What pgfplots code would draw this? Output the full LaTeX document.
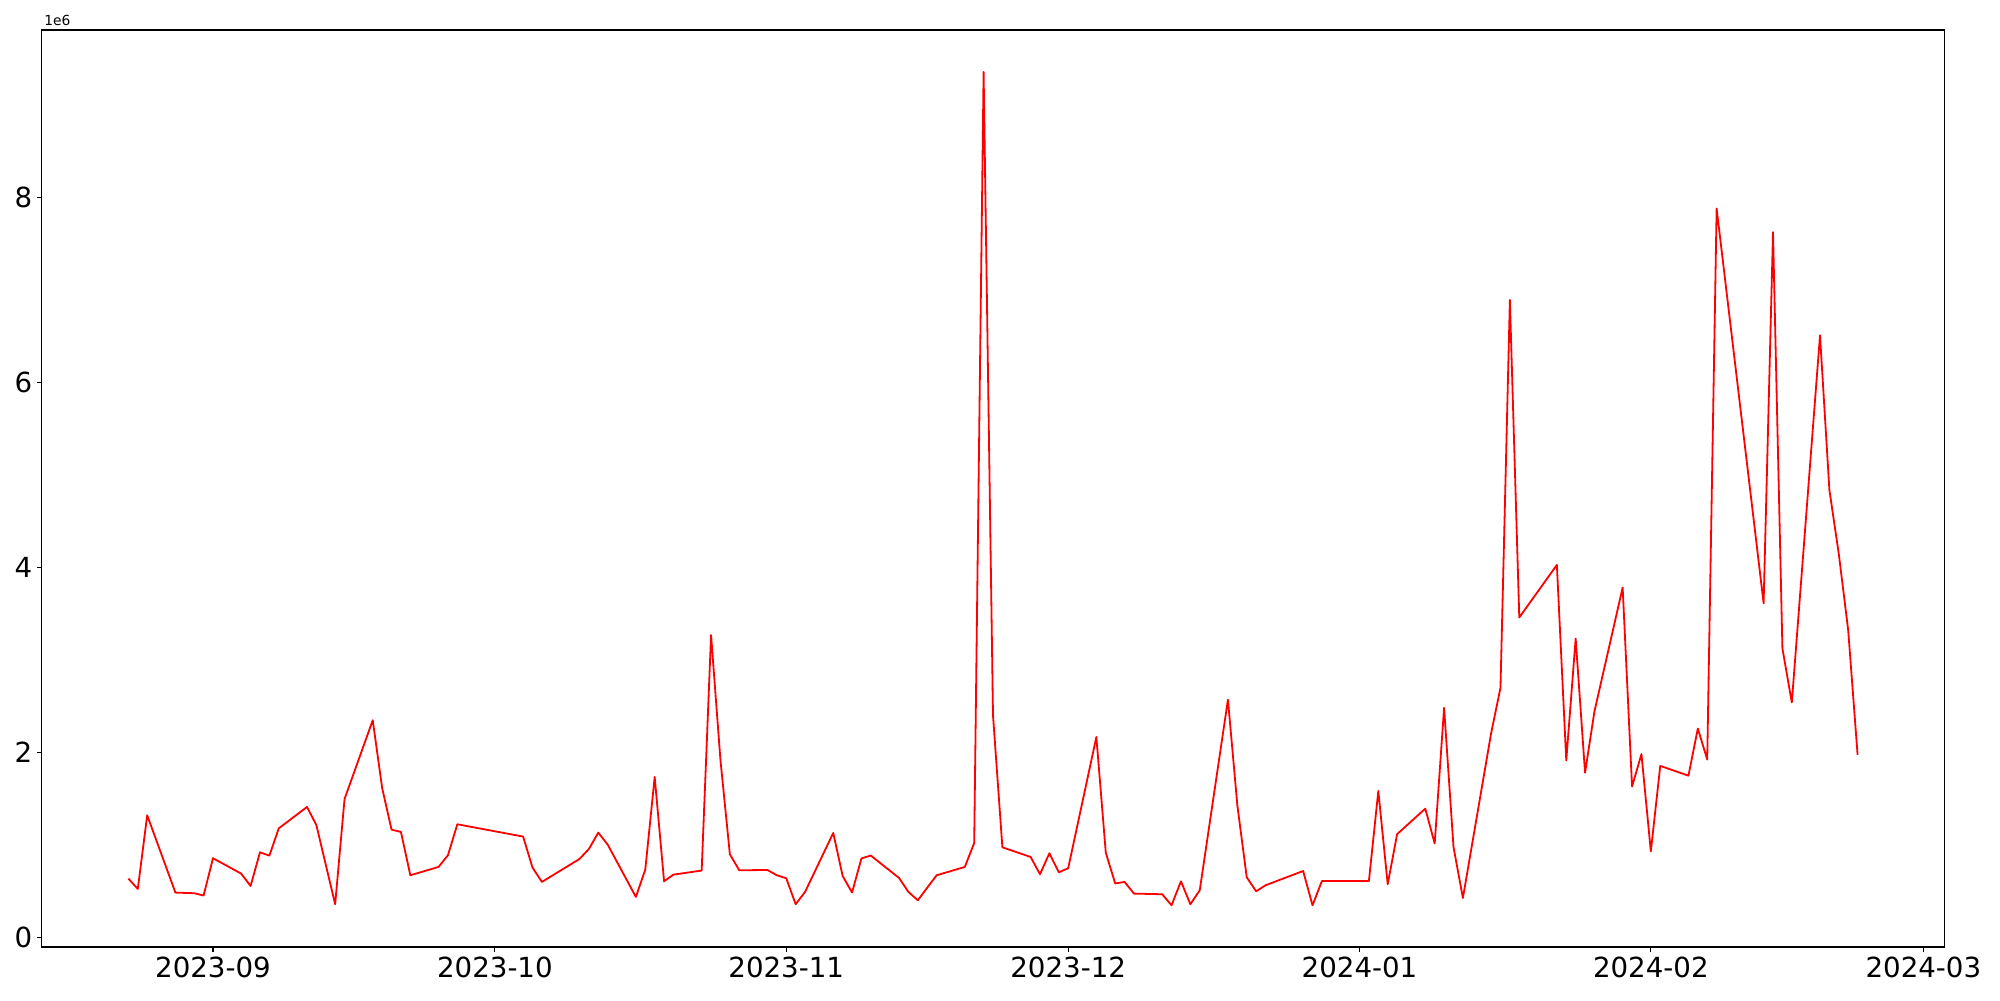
\documentclass[border=0pt]{standalone}
\usepackage{fontspec}
\setmainfont{DejaVu Sans}
\usepackage{pgfplots}
\pgfplotsset{compat=1.18}
\usepackage{pgfplotstable}

% d = days since 2023-09-01, v = value in units of 1e6
\pgfplotstableread{
d v
-9 0.639
-8 0.527
-7 1.323
-4 0.488
-2 0.481
-1 0.456
0 0.859
3 0.693
4 0.559
5 0.923
6 0.887
7 1.182
10 1.413
11 1.218
13 0.362
14 1.499
17 2.350
18 1.618
19 1.168
20 1.143
21 0.675
24 0.765
25 0.891
26 1.226
33 1.093
34 0.758
35 0.603
39 0.851
40 0.959
41 1.136
42 1.006
45 0.441
46 0.736
47 1.737
48 0.610
49 0.682
52 0.726
53 3.270
54 1.917
55 0.902
56 0.729
59 0.732
60 0.675
61 0.643
62 0.362
63 0.495
66 1.132
67 0.668
68 0.488
69 0.857
70 0.888
73 0.646
74 0.495
75 0.405
77 0.675
80 0.765
81 1.024
82 9.355
83 2.403
84 0.977
87 0.873
88 0.686
89 0.913
90 0.707
91 0.751
94 2.169
95 0.920
96 0.587
97 0.603
98 0.477
101 0.470
102 0.351
103 0.610
104 0.362
105 0.513
108 2.572
109 1.431
110 0.653
111 0.502
112 0.567
116 0.721
117 0.351
118 0.613
123 0.613
124 1.586
125 0.578
126 1.119
129 1.395
130 1.018
131 2.484
132 0.981
133 0.429
136 2.207
137 2.701
138 6.890
139 3.460
143 4.028
144 1.916
145 3.232
146 1.783
147 2.446
150 3.784
151 1.634
152 1.984
153 0.933
154 1.857
157 1.751
158 2.260
159 1.925
160 7.878
165 3.614
166 7.623
167 3.126
168 2.542
171 6.508
172 4.836
173 4.146
174 3.322
175 1.975
}\data

\begin{document}
\begin{tikzpicture}
\begin{axis}[
  name=ax,
  at={(0,0)}, anchor=south west,
  width=1369.4bp, height=660.2bp, scale only axis,
  xmin=-18.2, xmax=184.2, ymin=-0.1, ymax=9.807,
  xtick={0,30,61,91,122,153,182},
  xticklabels={2023-09,2023-10,2023-11,2023-12,2024-01,2024-02,2024-03},
  ytick={0,2,4,6,8},
  xtick pos=lower, ytick pos=left,
  tick align=outside, major tick length=3.5pt,
  tick style={black, line width=0.8pt},
  axis line style={black, line width=0.8pt},
  ticklabel style={font=\fontsize{20}{24}\selectfont},
  /pgf/number format/assume math mode=true,
  scaled y ticks=false,
]
\addplot[red, line width=1.3pt, line join=round, no marks] table[x=d,y=v]{\data};
\end{axis}
\node[anchor=south west, inner sep=0pt, font=\fontsize{10}{12}\selectfont] at ([xshift=1.5bp, yshift=3bp]ax.north west) {1e6};
\pgfresetboundingbox
\path (-30.2bp,-38.2bp) rectangle (1409.7bp,681.8bp);
\end{tikzpicture}
\end{document}
